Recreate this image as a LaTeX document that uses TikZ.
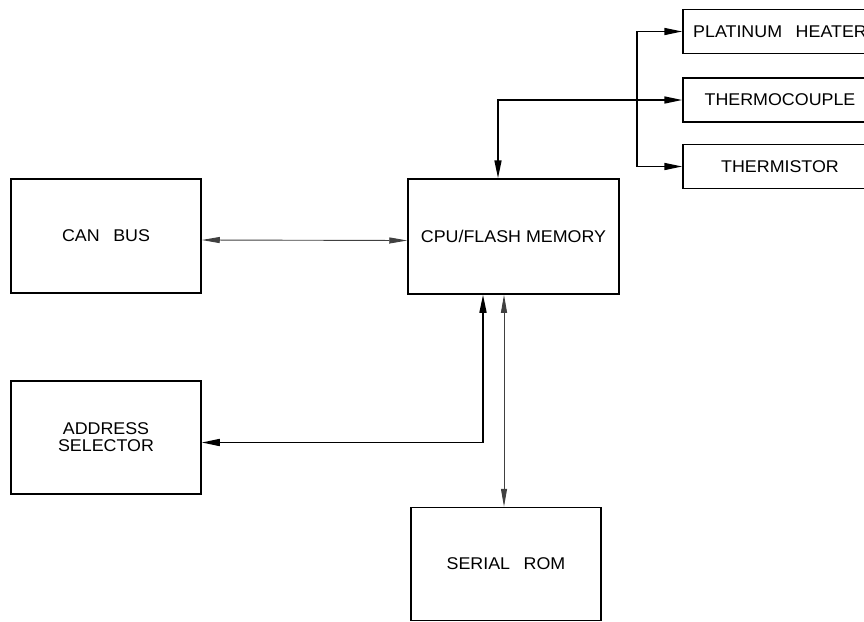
\documentclass[tikz,border=0pt]{standalone}
\usepackage{fontspec}
\setmainfont{Liberation Sans}[FakeStretch=1.05]
\usepackage{tikz}
\usetikzlibrary{arrows.meta,positioning,calc}

\begin{document}
\begin{tikzpicture}[
    x=1pt, y=-1pt,
    font=\fontsize{17}{17}\selectfont,
    block/.style={rectangle, draw=black, line width=1.5pt, inner sep=0pt, align=center, minimum width=190pt, minimum height=114pt},
    sensor/.style={block, minimum width=194pt, minimum height=44pt},
    link/.style={{Triangle[length=18pt,width=6pt]}-{Triangle[length=18pt,width=6pt]}, line width=0.9pt, draw=black!75},
    buslink/.style={{Triangle[length=18pt,width=7pt]}-{Triangle[length=18pt,width=7pt]}, line width=1.6pt, draw=black},
    feed/.style={-{Triangle[length=18pt,width=7pt]}, line width=1.6pt, draw=black}
]
    \clip (0,0) rectangle (864,621);

    \node (canbus) [block] at (106,236) {CAN\hspace{0.8em}BUS};
    \node (cpu) [block, minimum width=211pt, minimum height=115pt] at (513.5,236.5) {CPU/FLASH MEMORY};
    \node (addr) [block, minimum height=113pt] at (106,437.5) {ADDRESS\\SELECTOR};
    \node (rom) [block, minimum height=113pt] at (506,564) {SERIAL\hspace{0.8em}ROM};
    \node (heater) [sensor] at (780,31.5) {PLATINUM\hspace{0.8em}HEATER};
    \node (thermo) [sensor] at (780,100) {THERMOCOUPLE};
    \node (thermistor) [sensor] at (780,166.5) {THERMISTOR};

    % sensor bus
    \coordinate (cpuin) at ([xshift=-15.5pt]cpu.north);
    \coordinate (tap) at (637,100);
    \draw [buslink] (cpuin) |- (thermo.west);
    \draw [feed] (tap) |- (heater.west);
    \draw [feed] (tap) |- (thermistor.west);

    \draw [link] ([yshift=-4pt]canbus.east) -- ([yshift=-4pt]cpu.west);
    \draw [buslink] ([xshift=-30.5pt]cpu.south) |- ([yshift=-5pt]addr.east);
    \draw [link] ([xshift=-9.5pt]cpu.south) -- ([xshift=-9.5pt]cpu.south |- rom.north);
\end{tikzpicture}
\end{document}
